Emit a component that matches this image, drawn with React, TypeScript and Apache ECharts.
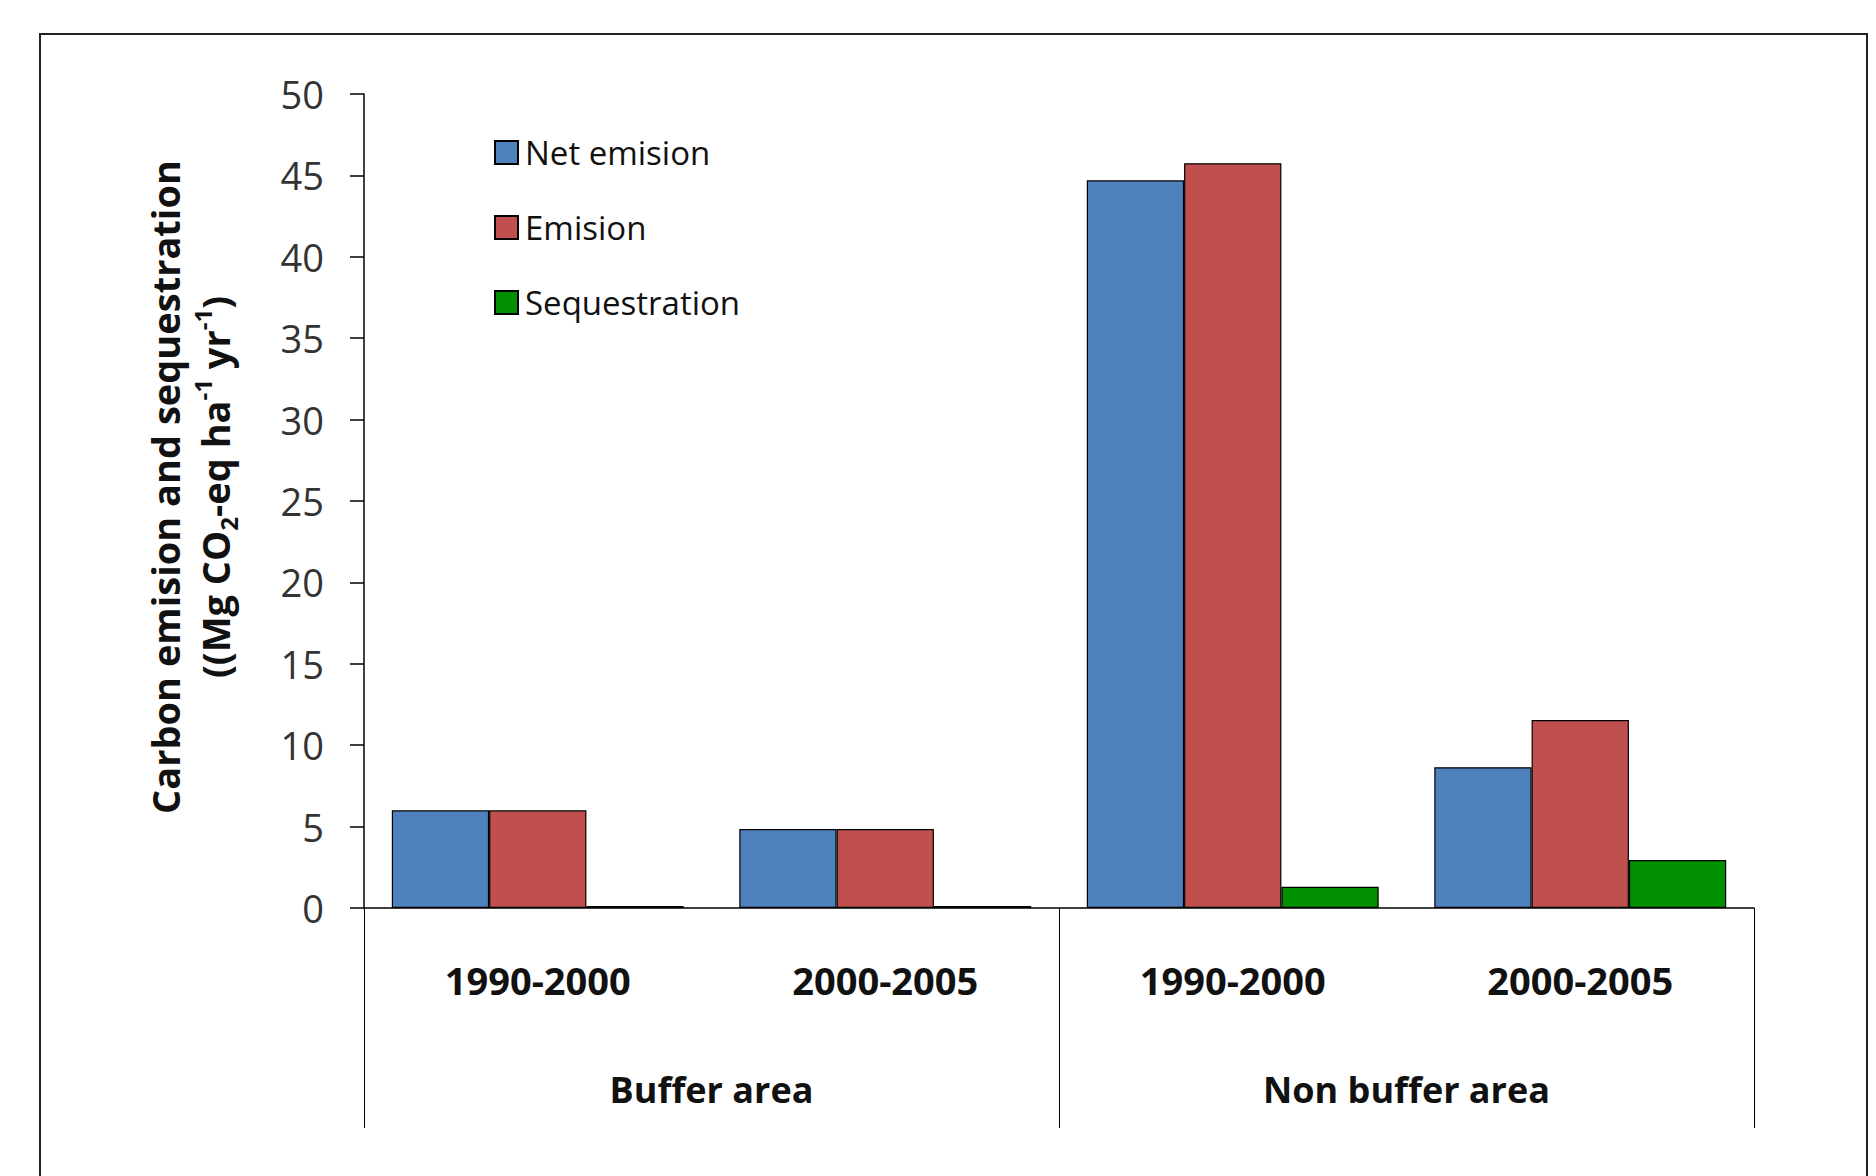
import React, { useEffect, useRef } from "react";
import * as echarts from "echarts";

const periods = ["1990-2000", "2000-2005", "1990-2000", "2000-2005"];
const areas = ["Buffer area", "Non buffer area"];
const netEmision = [6.0, 4.85, 44.7, 8.65];
const emision = [6.0, 4.85, 45.75, 11.55];
const sequestration = [0.12, 0.12, 1.3, 2.95];
const seriesNames = ["Net emision", "Emision", "Sequestration"];
const seriesColors = ["#4F81BD", "#C0504D", "#009000"];
const yMin = 0;
const yMax = 50;
const yInterval = 5;

const FONT = "'Open Sans', 'Noto Sans', sans-serif";

export default function App() {
  const ref = useRef<HTMLDivElement>(null);
  useEffect(() => {
    if (!ref.current) return;
    const chart = echarts.init(ref.current, null, { renderer: "svg" });
    const values = [netEmision, emision, sequestration];
    chart.setOption({
      animation: false,
      backgroundColor: "#ffffff",
      textStyle: { fontFamily: FONT },
      grid: { left: 364, right: 122, top: 94, bottom: 268, containLabel: false },
      legend: {
        orient: "vertical",
        left: 489,
        top: 131,
        itemWidth: 23,
        itemHeight: 23,
        itemGap: 42,
        icon: "rect",
        data: seriesNames,
        textStyle: { fontFamily: FONT, fontSize: 33, color: "#111", lineHeight: 23, padding: [0, 0, 0, 2] },
      },
      xAxis: [
        {
          type: "category",
          data: periods,
          position: "bottom",
          axisLine: { show: true, lineStyle: { color: "#000", width: 1.5 } },
          axisTick: { show: false },
          axisLabel: { fontFamily: FONT, fontSize: 38, fontWeight: "bold", color: "#111", margin: 53, interval: 0 },
        },
        {
          type: "category",
          data: areas,
          position: "bottom",
          axisLine: { show: false },
          axisTick: { show: true, length: 220, interval: 0, lineStyle: { color: "#000", width: 1 } },
          axisLabel: { fontFamily: FONT, fontSize: 36, fontWeight: "bold", color: "#111", margin: 163, interval: 0 },
        },
      ],
      yAxis: {
        type: "value",
        min: yMin,
        max: yMax,
        interval: yInterval,
        splitLine: { show: false },
        axisLine: { show: true, lineStyle: { color: "#000", width: 1.5 } },
        axisTick: { show: true, length: 14, lineStyle: { color: "#000", width: 1.5 } },
        axisLabel: { fontFamily: FONT, fontSize: 38, color: "#333", margin: 40 },
        name: "{a|Carbon emision and sequestration}\n{a|((Mg CO}{sub|2}{a|-eq ha}{sup|-1}{a| yr}{sup|-1}{a|)}",
        nameLocation: "middle",
        nameRotate: 90,
        nameGap: 124,
        nameTextStyle: {
          fontFamily: FONT,
          fontSize: 38,
          fontWeight: "bold",
          color: "#111",
          lineHeight: 50,
          padding: [0, 0, 0, 28],
          rich: {
            a: { fontFamily: FONT, fontSize: 38, fontWeight: "bold", color: "#111", lineHeight: 50, verticalAlign: "middle" },
            sub: { fontFamily: FONT, fontSize: 24, fontWeight: "bold", color: "#111", lineHeight: 28, verticalAlign: "bottom" },
            sup: { fontFamily: FONT, fontSize: 24, fontWeight: "bold", color: "#111", lineHeight: 28, verticalAlign: "top" },
          },
        },
      },
      series: seriesNames.map((name, i) => ({
        name,
        type: "bar",
        xAxisIndex: 0,
        data: values[i],
        barGap: "0%",
        barCategoryGap: "16%",
        itemStyle: { color: seriesColors[i], borderColor: "#000", borderWidth: 1.2 },
      })),
      graphic: [
        {
          type: "rect",
          silent: true,
          z: -10,
          shape: { x: 40, y: 34, width: 1827, height: 1250 },
          style: { fill: "none", stroke: "#222", lineWidth: 2 },
        },
      ],
    });
    return () => chart.dispose();
  }, []);
  return (
    <div
      ref={ref}
      style={{ position: "fixed", left: 0, top: 0, width: 1876, height: 1176, background: "#fff" }}
    />
  );
}
